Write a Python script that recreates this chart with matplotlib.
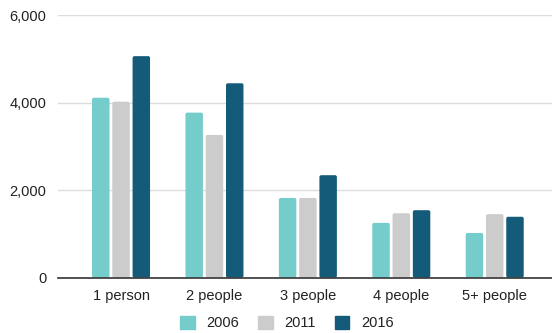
import matplotlib
matplotlib.use("Agg")
import matplotlib.pyplot as plt
import numpy as np
from matplotlib.patches import FancyBboxPatch
from matplotlib.ticker import FuncFormatter

plt.rcParams['font.family'] = ['Liberation Sans', 'DejaVu Sans']

categories = ["1 person", "2 people", "3 people", "4 people", "5+ people"]
years = ["2006", "2011", "2016"]
values_2006 = [4110, 3770, 1820, 1250, 1020]
values_2011 = [4020, 3260, 1820, 1470, 1450]
values_2016 = [5060, 4440, 2340, 1540, 1390]
colors = ["#74cccb", "#cccccc", "#145b79"]

series = [values_2006, values_2011, values_2016]

fig = plt.figure(figsize=(5.52, 3.33), dpi=100)
ax = fig.add_axes([57.7 / 552, 1 - 277.6 / 333, (551.7 - 57.7) / 552, (277.6 - 15) / 333])

x = np.arange(len(categories))
bw = 0.187
offset = 0.217
# y-units per x-unit on screen, so the corner rounding stays circular
aspect = (6000 / 262.6) / (1 / 93.4)
for i, (vals, col, yr) in enumerate(zip(series, colors, years)):
    bars = ax.bar(x + (i - 1) * offset, vals, width=bw, color=col, label=yr, zorder=3)
    # Slightly rounded corners
    for b in bars:
        b.set_visible(False)
        p = FancyBboxPatch((b.get_x(), 0), b.get_width(), b.get_height(),
                           boxstyle="round,pad=0,rounding_size=0.02",
                           mutation_aspect=aspect,
                           facecolor=col, edgecolor="none", zorder=3)
        ax.add_patch(p)

ax.set_ylim(0, 6000)
ax.set_xlim(-0.678, 4.61)
ax.set_yticks([0, 2000, 4000, 6000])
ax.yaxis.set_major_formatter(FuncFormatter(lambda v, _: f"{int(v):,}"))
ax.set_xticks(x)
ax.set_xticklabels(categories)
ax.grid(axis="y", color="#dddddd", linewidth=1.0, zorder=0)
ax.tick_params(axis="both", length=0, labelsize=10.5, colors="#222222")
ax.tick_params(axis="y", pad=8)
ax.tick_params(axis="x", pad=8)
for s in ["top", "right", "left"]:
    ax.spines[s].set_visible(False)
ax.spines["bottom"].set_color("#333333")
ax.spines["bottom"].set_linewidth(1.2)
ax.spines["bottom"].set_zorder(4)

handles = [plt.Rectangle((0, 0), 1, 1, color=c) for c in colors]
fig.legend(handles, years, loc="center", bbox_to_anchor=(287 / 552, 1 - 323 / 333),
           ncol=3, frameon=False, fontsize=10.5, handlelength=1.0, handleheight=1.0,
           columnspacing=1.3, handletextpad=0.8, labelcolor="#222222")

fig.savefig("out.png", dpi=100)
